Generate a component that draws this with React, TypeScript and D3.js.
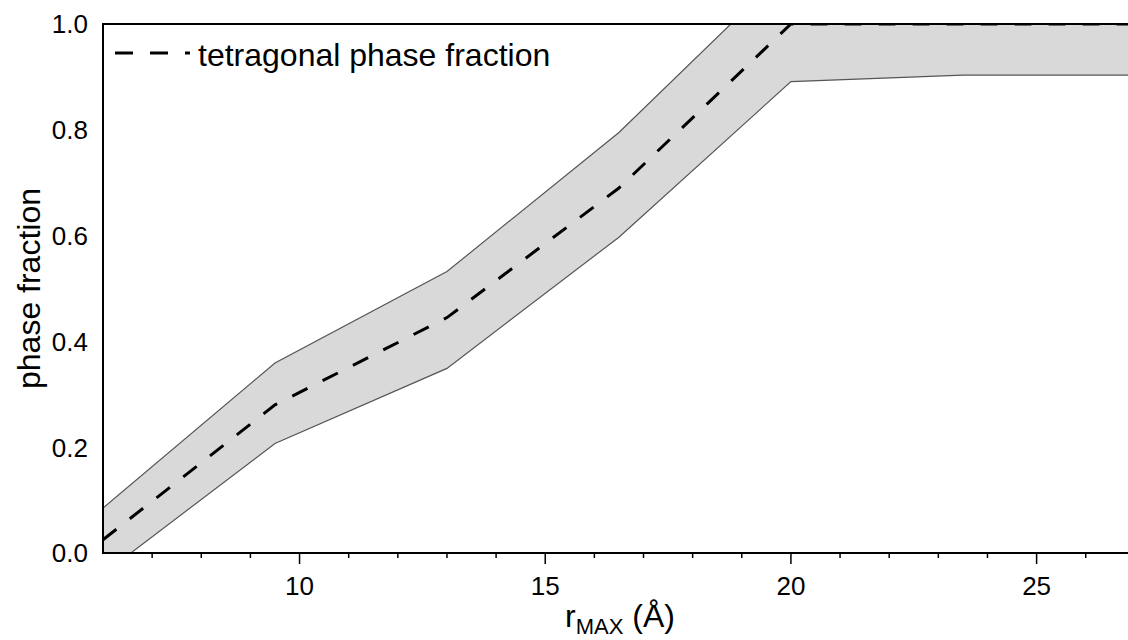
import React from "react";
import * as d3 from "d3";

const rMax = [6, 9.5, 13, 16.5, 20, 23.5, 27];
const fraction = [0.025, 0.28, 0.445, 0.69, 1.0, 1.0, 1.0];
const upperBound = [0.085, 0.359, 0.532, 0.795, 1.11, 1.1, 1.1];
const lowerBound = [-0.04, 0.207, 0.349, 0.597, 0.891, 0.9035, 0.9035];
const xMajorTicks = [10, 15, 20, 25];
const xMinorTicks = [7, 8, 9, 11, 12, 13, 14, 16, 17, 18, 19, 21, 22, 23, 24, 26];
const yTicks = [0, 0.2, 0.4, 0.6, 0.8, 1.0];
const legendLabel = "tetragonal phase fraction";

const W = 1128;
const H = 640;
const left = 103;
const right = 1128;
const top = 24;
const bottom = 553;
const FONT = "'Liberation Sans', Arial, sans-serif";

export default function App() {
  const x = d3.scaleLinear().domain([6, 26.86]).range([left, right]);
  const y = d3.scaleLinear().domain([0, 1]).range([bottom, top]);
  const pts = rMax.map((r, i) => ({ r, m: fraction[i], u: upperBound[i], l: lowerBound[i] }));
  const area = d3
    .area<any>()
    .x((d) => x(d.r))
    .y0((d) => y(d.l))
    .y1((d) => y(d.u));
  const upperLine = d3.line<any>().x((d) => x(d.r)).y((d) => y(d.u));
  const lowerLine = d3.line<any>().x((d) => x(d.r)).y((d) => y(d.l));
  const midLine = d3.line<any>().x((d) => x(d.r)).y((d) => y(d.m));

  return (
    <svg
      width={W}
      height={H}
      style={{ position: "absolute", left: 0, top: 0, background: "#fff" }}
      fontFamily={FONT}
    >
      <defs>
        <clipPath id="plotClip">
          <rect x={left} y={top} width={right - left} height={bottom - top} />
        </clipPath>
      </defs>
      <g clipPath="url(#plotClip)">
        <path d={area(pts) || ""} fill="#d9d9d9" stroke="none" />
        <path d={upperLine(pts) || ""} fill="none" stroke="#555" strokeWidth={1.2} />
        <path d={lowerLine(pts) || ""} fill="none" stroke="#555" strokeWidth={1.2} />
        <path
          d={midLine(pts) || ""}
          fill="none"
          stroke="#000"
          strokeWidth={3}
          strokeDasharray="17 17"
        />
      </g>
      {/* frame */}
      <line x1={left} x2={right} y1={top} y2={top} stroke="#000" strokeWidth={2} />
      <line x1={left} x2={left} y1={top - 1} y2={bottom + 1} stroke="#000" strokeWidth={2} />
      <line x1={left - 1} x2={right} y1={bottom} y2={bottom} stroke="#000" strokeWidth={2} />
      {/* x ticks */}
      {xMinorTicks.map((t) => (
        <line key={"mi" + t} x1={x(t)} x2={x(t)} y1={bottom} y2={bottom + 5} stroke="#000" strokeWidth={1.5} />
      ))}
      {xMajorTicks.map((t) => (
        <g key={"ma" + t}>
          <line x1={x(t)} x2={x(t)} y1={bottom} y2={bottom + 11} stroke="#000" strokeWidth={1.5} />
          <text x={x(t)} y={595} textAnchor="middle" fontSize={26} fill="#000">
            {t}
          </text>
        </g>
      ))}
      {/* y tick labels */}
      {yTicks.map((t) => (
        <text
          key={"y" + t}
          x={88}
          y={y(t)}
          dy="0.36em"
          textAnchor="end"
          fontSize={26}
          fill="#000"
        >
          {t.toFixed(1)}
        </text>
      ))}
      {/* axis titles */}
      <text
        transform={`translate(40, ${(top + bottom) / 2}) rotate(-90)`}
        textAnchor="middle"
        fontSize={32}
        fill="#000"
      >
        phase fraction
      </text>
      <text x={565} y={627} fontSize={32} fill="#000">
        r
        <tspan fontSize={22} dy={7}>MAX</tspan>
        <tspan dy={-7}> (Å)</tspan>
      </text>
      {/* legend */}
      <line x1={115} x2={190} y1={53} y2={53} stroke="#000" strokeWidth={3} strokeDasharray="18 17" />
      <text x={198} y={66} fontSize={32} fill="#000">
        {legendLabel}
      </text>
    </svg>
  );
}
